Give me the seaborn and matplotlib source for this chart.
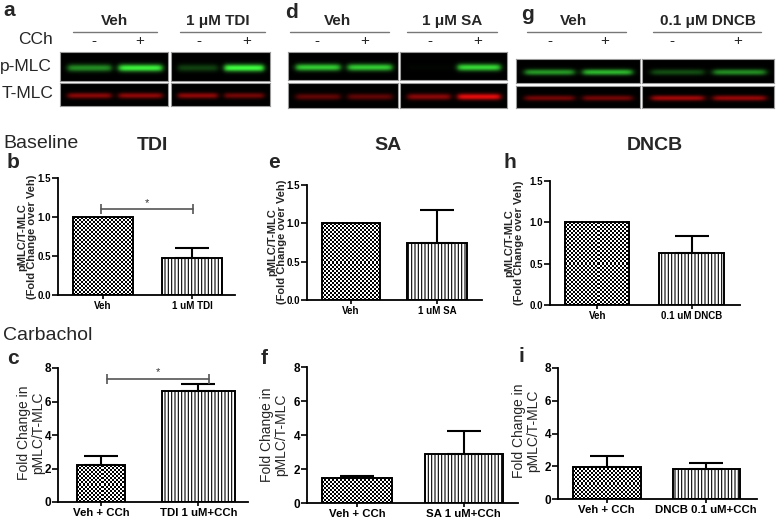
import numpy as np
import pandas as pd
import matplotlib
matplotlib.use("Agg")
import matplotlib.pyplot as plt
import seaborn as sns

# ---------------- data ----------------
base_tdi_cats = ["Veh", "1 uM TDI"]
base_tdi_vals = [1.0, 0.48]
base_tdi_sem = [0.0, 0.12]

base_sa_cats = ["Veh", "1 uM SA"]
base_sa_vals = [1.0, 0.74]
base_sa_sem = [0.0, 0.43]

base_dncb_cats = ["Veh", "0.1 uM DNCB"]
base_dncb_vals = [1.0, 0.63]
base_dncb_sem = [0.0, 0.21]

cch_tdi_cats = ["Veh + CCh", "TDI 1 uM+CCh"]
cch_tdi_vals = [2.2, 6.6]
cch_tdi_sem = [0.56, 0.43]

cch_sa_cats = ["Veh + CCh", "SA 1 uM+CCh"]
cch_sa_vals = [1.5, 2.88]
cch_sa_sem = [0.08, 1.33]

cch_dncb_cats = ["Veh + CCh", "DNCB 0.1 uM+CCh"]
cch_dncb_vals = [1.98, 1.82]
cch_dncb_sem = [0.65, 0.37]

# western blot band intensities (lanes: -CCh, +CCh)
blot_a_pmlc = [[0.55, 0.95], [0.25, 1.0]]
blot_a_tmlc = [[0.6, 0.62], [0.62, 0.5]]
blot_d_pmlc = [[0.8, 0.8], [0.02, 0.85]]
blot_d_tmlc = [[0.42, 0.42], [0.6, 1.0]]
blot_g_pmlc = [[0.6, 0.72], [0.3, 0.55]]
blot_g_tmlc = [[0.5, 0.5], [0.7, 0.65]]

# ---------------- setup ----------------
sns.set_theme(style="ticks")
plt.rcParams["font.family"] = ["Liberation Sans", "DejaVu Sans"]
plt.rcParams["hatch.linewidth"] = 0.8

W, H = 778, 518
fig = plt.figure(figsize=(W / 100, H / 100), dpi=100)
fig.patch.set_facecolor("white")


def rect(x0, y0, x1, y1):
    return [x0 / W, 1 - y1 / H, (x1 - x0) / W, (y1 - y0) / H]


def ftext(x, y, s, **kw):
    kw.setdefault("ha", "center")
    kw.setdefault("va", "center")
    fig.text(x / W, 1 - y / H, s, **kw)


# ---------------- blots ----------------
GREEN = (0.25, 1.0, 0.25)
RED = (0.9, 0.05, 0.05)


def blot(box, intens, color):
    ax = fig.add_axes(rect(*box))
    h, w = 40, 200
    yy = np.linspace(0, 1, h)[:, None]
    xx = np.linspace(0, 1, w)[None, :]
    img = np.zeros((h, w, 3))
    for c, v in zip([0.27, 0.74], intens):
        prof = 1 / (1 + np.exp(-(xx - (c - 0.2)) / 0.015)) * 1 / (1 + np.exp((xx - (c + 0.2)) / 0.015))
        vert = np.exp(-((yy - 0.55) / 0.13) ** 2)
        img += v * (prof * vert)[:, :, None] * np.array(color)[None, None, :]
    ax.imshow(np.clip(img, 0, 1), aspect="auto", extent=[0, 1, 0, 1], interpolation="bilinear")
    ax.set_xticks([])
    ax.set_yticks([])
    for s in ax.spines.values():
        s.set_color("#9a9a9a")
        s.set_linewidth(0.8)


blot_layout = [
    ([(60, 52, 168, 81), (171, 52, 270, 81)], [(60, 83, 168, 106), (171, 83, 270, 106)], blot_a_pmlc, blot_a_tmlc),
    ([(288, 52, 398, 80), (400, 52, 507, 80)], [(288, 83, 398, 108), (400, 83, 507, 108)], blot_d_pmlc, blot_d_tmlc),
    ([(516, 59, 640, 83), (642, 59, 774, 83)], [(516, 86, 640, 108), (642, 86, 774, 108)], blot_g_pmlc, blot_g_tmlc),
]
for pboxes, tboxes, pdat, tdat in blot_layout:
    for b, d in zip(pboxes, pdat):
        blot(b, d, GREEN)
    for b, d in zip(tboxes, tdat):
        blot(b, d, RED)

hdr = [
    ("a", 9, 11, "Veh", 115, (73, 157), "1 \u03bcM TDI", 218, (180, 265), [94, 140, 199, 247]),
    ("d", 292, 12, "Veh", 338, (290, 389), "1 \u03bcM SA", 452, (407, 497), [317, 365, 430, 478]),
    ("g", 527, 14, "Veh", 574, (527, 626), "0.1 \u03bcM DNCB", 708, (653, 761), [550, 605, 672, 738]),
]
for let, lx, ly, t1, t1x, u1, t2, t2x, u2, signs in hdr:
    ftext(lx, ly, let, fontsize=15, fontweight="bold")
    ftext(t1x, 21, t1, fontsize=11, fontweight="bold")
    ftext(t2x, 21, t2, fontsize=11, fontweight="bold")
    for (ux0, ux1) in (u1, u2):
        fig.add_artist(plt.Line2D([ux0 / W, ux1 / W], [1 - 32 / H, 1 - 32 / H], color="#777", lw=1.0))
    for sx, sg in zip(signs, ["-", "+", "-", "+"]):
        ftext(sx, 41, sg, fontsize=11)

ftext(53, 39, "CCh", fontsize=12.5, ha="right")
ftext(0, 67, "p-MLC", fontsize=12.5, ha="left")
ftext(2, 93, "T-MLC", fontsize=12.5, ha="left")

# ---------------- bar panels ----------------
CELL = 2.0


def bar_panel(box, cats, vals, sems, ylim, yticks, yticklabels, xlim, widths, yfs, xfs, sig=None):
    x0, y0, x1, y1 = box
    ax = fig.add_axes(rect(*box))
    df = pd.DataFrame({"cat": cats, "val": vals})
    sns.barplot(data=df, x="cat", y="val", ax=ax, color="white", edgecolor="black",
                linewidth=1.4, errorbar=None, saturation=1)
    patches = list(ax.patches)
    for i, (p, w) in enumerate(zip(patches, widths)):
        p.set_width(w)
        p.set_x(i - w / 2)
        p.set_zorder(2)
    ax.set_xlim(xlim)
    ax.set_ylim(ylim)
    patches[1].set_hatch("|||||")
    p = patches[0]
    pxx = (x1 - x0) / (xlim[1] - xlim[0])
    pxy = (y1 - y0) / (ylim[1] - ylim[0])
    nx = max(1, int(round(p.get_width() * pxx / CELL)))
    ny = max(1, int(round(p.get_height() * pxy / CELL)))
    chk = (np.indices((ny, nx)).sum(0) % 2).astype(float)
    p.set_facecolor("none")
    ax.imshow(chk, cmap="gray", vmin=0, vmax=1, aspect="auto", interpolation="nearest",
              extent=[p.get_x(), p.get_x() + p.get_width(), 0, p.get_height()],
              clip_path=p, zorder=1.5)
    ax.set_xlim(xlim)
    ax.set_ylim(ylim)
    for i, (v, s) in enumerate(zip(vals, sems)):
        if s > 0:
            ax.errorbar([i], [v], yerr=[[0], [s]], fmt="none", ecolor="black",
                        elinewidth=1.5, capsize=12, capthick=1.5, zorder=3)
    if sig is not None:
        sa, sb, sy, dy = sig
        ax.plot([sa, sb], [sy, sy], color="#555555", lw=1.2, zorder=3, clip_on=False)
        ax.plot([sa, sb], [sy, sy], ls="none", marker="|", ms=7, mew=1.2, color="#555555",
                zorder=3, clip_on=False)
        ax.text((sa + sb) / 2, sy + dy, "*", ha="center", va="bottom", fontsize=8, color="#333")
    ax.set_yticks(yticks)
    ax.set_yticklabels(yticklabels, fontsize=yfs, fontweight="bold")
    ax.set_xticks([0, 1])
    ax.set_xticklabels(cats, fontsize=xfs, fontweight="bold")
    ax.set_xlabel("")
    ax.set_ylabel("")
    ax.set_facecolor("none")
    for s in ("left", "bottom"):
        ax.spines[s].set_linewidth(1.3)
        ax.spines[s].set_color("black")
    sns.despine(ax=ax)
    ax.tick_params(axis="y", direction="out", length=4, width=1.2, pad=1, colors="black")
    ax.tick_params(axis="x", direction="out", length=3, width=1.2, pad=1, colors="black")
    return ax


b_ticks = [0, 0.5, 1.0, 1.5]
b_labels = ["0.0", "0.5", "1.0", "1.5"]
c_ticks = [0, 2, 4, 6, 8]
c_labels = ["0", "2", "4", "6", "8"]

bar_panel((58, 178, 235, 295), base_tdi_cats, base_tdi_vals, base_tdi_sem, (0, 1.5), b_ticks, b_labels,
          (-0.505, 1.48), (0.67, 0.67), 7, 7, sig=(-0.02, 1.01, 1.1, 0.02))
bar_panel((307, 185, 482, 300), base_sa_cats, base_sa_vals, base_sa_sem, (0, 1.5), b_ticks, b_labels,
          (-0.51, 1.52), (0.67, 0.70), 7, 7)
bar_panel((550, 181, 740, 305), base_dncb_cats, base_dncb_vals, base_dncb_sem, (0, 1.5), b_ticks, b_labels,
          (-0.50, 1.51), (0.68, 0.69), 7, 7)

bar_panel((58, 368, 248, 502), cch_tdi_cats, cch_tdi_vals, cch_tdi_sem, (0, 8), c_ticks, c_labels,
          (-0.44, 1.51), (0.50, 0.75), 8.5, 8.2, sig=(0.06, 1.11, 7.33, 0.15))
bar_panel((307, 367, 518, 503), cch_sa_cats, cch_sa_vals, cch_sa_sem, (0, 8), c_ticks, c_labels,
          (-0.47, 1.51), (0.65, 0.73), 8.5, 8.2)
bar_panel((558, 368, 757, 499), cch_dncb_cats, cch_dncb_vals, cch_dncb_sem, (0, 8), c_ticks, c_labels,
          (-0.49, 1.51), (0.68, 0.67), 8.5, 8.2)

blab = "pMLC/T-MLC\n(Fold Change over Veh)"
clab = "Fold Change in\npMLC/T-MLC"
ftext(27, 237, blab, fontsize=8, fontweight="bold", rotation=90, linespacing=1.05)
ftext(277, 242, blab, fontsize=8, fontweight="bold", rotation=90, linespacing=1.05)
ftext(514, 243, blab, fontsize=8, fontweight="bold", rotation=90, linespacing=1.05)
ftext(31, 433, clab, fontsize=10, rotation=90, linespacing=1.0)
ftext(274, 435, clab, fontsize=10, rotation=90, linespacing=1.0)
ftext(526, 431, clab, fontsize=10, rotation=90, linespacing=1.0)

ftext(3, 143, "Baseline", fontsize=14, ha="left")
ftext(3, 335, "Carbachol", fontsize=14, ha="left")
ftext(152, 145, "TDI", fontsize=14, fontweight="bold")
ftext(388, 146, "SA", fontsize=14, fontweight="bold")
ftext(655, 146, "DNCB", fontsize=14, fontweight="bold")
for let, x, y in [("b", 7, 162), ("e", 268, 163), ("h", 504, 163),
                  ("c", 7, 358), ("f", 261, 358), ("i", 519, 356)]:
    ftext(x, y, let, fontsize=15, fontweight="bold", ha="left")

fig.savefig("out.png", dpi=100, facecolor="white")
